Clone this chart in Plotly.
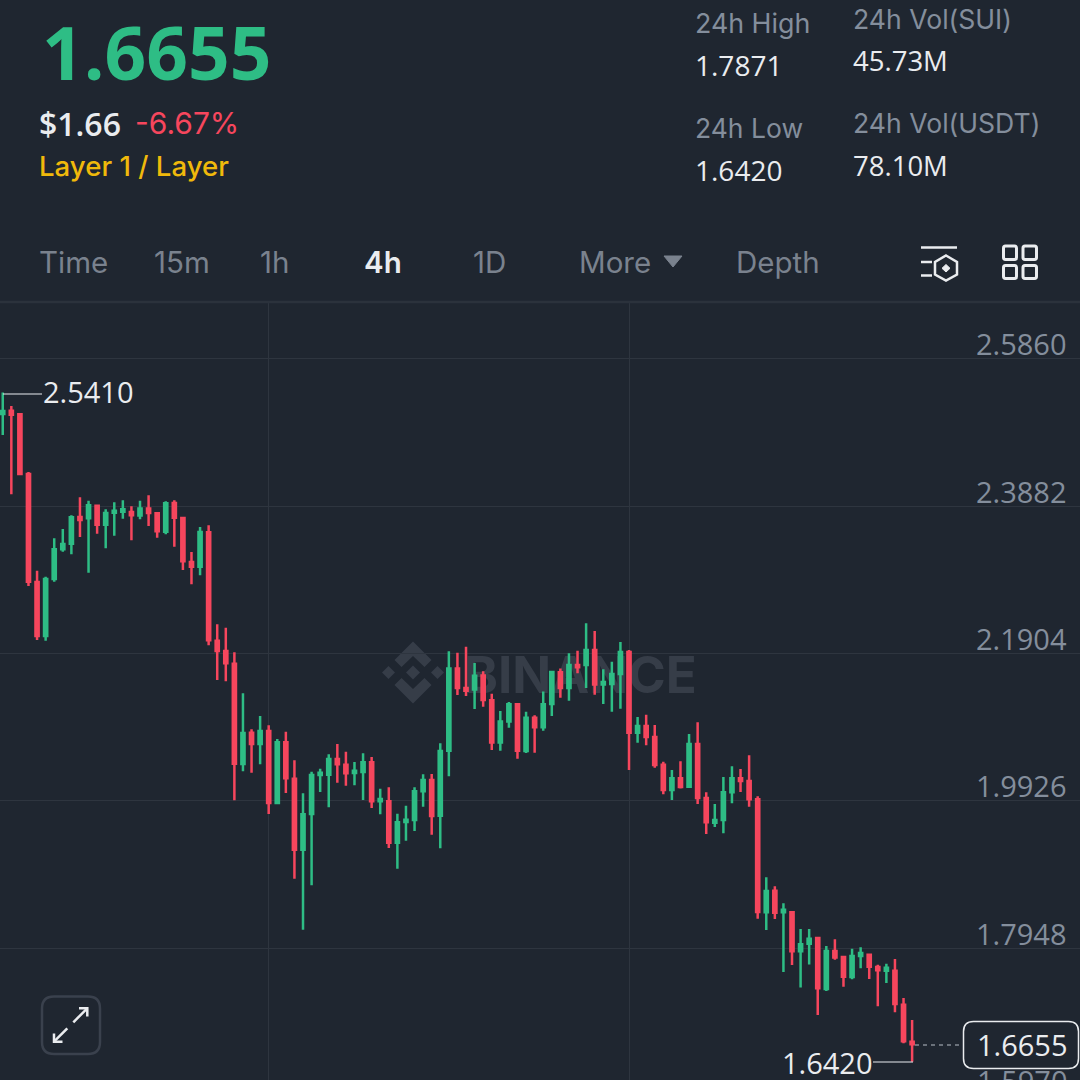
import plotly.graph_objects as go

BG = "#1F2630"
GREEN = "#2EBD85"
RED = "#F6465D"
GREY = "#848E9C"
WHITE = "#EAECEF"
GRID = "#2E353F"
TAB = "#7A828E"
FONT = "Inter"
NUM = "Open Sans"

opens = [2.5121,2.5166,2.5117,2.4315,2.2865,2.2139,2.2905,2.3303,2.3379,2.3738,2.3720,2.3890,2.3635,2.3796,2.3809,2.3805,2.3756,2.3850,2.3787,2.3541,2.3926,2.3724,2.3133,2.3070,2.3532,
 2.2076,2.1938,2.1767,2.0420,2.0841,2.0688,2.0863,1.9896,2.0711,2.0223,1.9269,1.9748,2.0272,2.0276,2.0487,2.0411,2.0299,2.0312,2.0442,1.9918,1.9918,1.9363,1.9641,1.9667,2.0052,2.0205,1.9726,
 2.0598,2.1704,2.1440,2.1422,2.1610,2.1275,2.0710,2.0992,2.1221,2.0594,2.1042,2.0912,2.1225,2.1651,2.1440,2.1749,2.1749,2.1951,2.1489,2.1494,2.1628,2.1924,2.0840,2.0930,2.0782,
 2.0410,2.0070,2.0227,2.0115,2.0688,1.9963,1.9631,1.9667,2.0039,2.0227,2.0191,1.9945,1.8427,1.8718,
 1.8427,1.8427,1.7903,1.8006,1.8082,1.7397,1.7907,1.7827,1.7558,1.7840,1.7858,1.7693,1.7643,1.7643,1.7187,1.6689]
highs = [2.5410,2.5229,2.5130,2.4342,2.3017,2.2936,2.3451,2.3576,2.3760,2.4002,2.3957,2.3894,2.3841,2.3935,2.3962,2.3881,2.3957,2.4029,2.3791,2.3948,2.3962,2.3729,2.3267,2.3603,2.3626,
 2.2296,2.2251,2.1920,2.1369,2.0885,2.1064,2.0939,2.0755,2.0854,2.0469,2.0026,2.0317,2.0357,2.0549,2.0688,2.0585,2.0447,2.0563,2.0514,2.0088,2.0106,1.9752,1.9860,2.0106,2.0281,2.0285,2.0697,
 2.1933,2.1915,2.1995,2.1776,2.1664,2.1364,2.1131,2.1252,2.1221,2.1122,2.1073,2.1395,2.1664,2.1704,2.1906,2.1942,2.2309,2.2206,2.1691,2.1794,2.2058,2.1951,2.1051,2.1082,2.0943,
 2.0451,2.0339,2.0455,2.0822,2.0979,2.0039,1.9882,2.0245,2.0388,2.0352,2.0536,1.9985,1.8897,1.8776,
 1.8548,1.8427,1.8203,1.8203,1.8087,1.7975,1.8064,1.7836,1.7939,1.7957,1.7858,1.7724,1.7737,1.7800,1.7276,1.6981]
lows = [2.4839,2.4042,2.4302,2.2811,2.2085,2.2076,2.2869,2.3272,2.3236,2.3469,2.2990,2.3514,2.3317,2.3487,2.3715,2.3424,2.3706,2.3617,2.3460,2.3505,2.3339,2.3026,2.2833,2.2954,2.2014,
 2.1548,2.1530,1.9932,2.0321,2.0303,2.0415,1.9748,1.9891,2.0030,1.8879,1.8194,1.8790,2.0043,1.9838,2.0169,2.0129,2.0133,1.9936,1.9829,1.9744,1.9291,1.9014,1.9390,1.9520,1.9846,1.9470,1.9287,
 2.0254,2.1346,2.1333,2.1158,2.1189,2.0607,2.0598,2.0907,2.0491,2.0567,2.0572,2.0867,2.1064,2.1310,2.1270,2.1637,2.1440,2.1351,2.1225,2.1122,2.1163,2.0339,2.0706,2.0670,2.0370,
 2.0012,1.9936,2.0092,2.0115,1.9882,1.9479,1.9573,1.9488,1.9891,2.0043,1.9846,1.8342,1.8189,1.8337,
 1.7625,1.7719,1.7419,1.7728,1.7048,1.7370,1.7791,1.7428,1.7527,1.7675,1.7531,1.7164,1.7478,1.7084,1.6667,1.6420]
closes = [2.5162,2.5112,2.4315,2.2869,2.2139,2.2905,2.3303,2.3375,2.3733,2.3697,2.3894,2.3635,2.3791,2.3823,2.3841,2.3760,2.3850,2.3791,2.3545,2.3921,2.3729,2.3142,2.3070,2.3536,2.2081,
 2.1938,2.1772,2.0424,2.0836,2.0688,2.0863,1.9896,2.0711,2.0227,1.9269,1.9744,2.0272,2.0303,2.0487,2.0415,2.0294,2.0330,2.0442,1.9918,1.9949,1.9363,1.9636,1.9672,2.0052,2.0205,1.9721,2.0594,
 2.1704,2.1440,2.1404,2.1606,2.1279,2.0710,2.0992,2.1221,2.0598,2.1042,2.0912,2.1221,2.1655,2.1440,2.1749,2.1718,2.1951,2.1489,2.1521,2.1628,2.1924,2.0840,2.0930,2.0782,2.0406,
 2.0070,2.0227,2.0110,2.0688,1.9963,1.9636,1.9667,2.0039,2.0227,2.0191,1.9945,1.8431,1.8713,1.8422,
 1.8463,1.7903,1.7997,1.8073,1.7406,1.7907,1.7822,1.7563,1.7840,1.7881,1.7697,1.7648,1.7684,1.7195,1.6694,1.6655]
candle_index = list(range(len(closes)))

price_ticks = [2.5860, 2.3882, 2.1904, 1.9926, 1.7948]
price_tick_labels = ["2.5860", "2.3882", "2.1904", "1.9926", "1.7948"]
clipped_tick_label = "1.5970"
time_grid_candles = [31, 73]

tabs = ["Time", "15m", "1h", "4h", "1D", "More", "Depth"]
tab_x = [38, 153, 259, 363, 472, 578, 735]

W = 1080.0
def px(x, y):
    return x / W, 1 - y / W
def path(points, close=True):
    s = "M" + " L".join(f"{px(x,y)[0]:.5f},{px(x,y)[1]:.5f}" for x, y in points)
    return s + (" Z" if close else "")

annotations, shapes = [], []
def text(x, y, s, size, color, anchor="left", weight=400, family=FONT):
    fx, fy = px(x, y)
    annotations.append(dict(text=s, x=fx, y=fy, xref="paper", yref="paper", showarrow=False,
                            xanchor=anchor, yanchor="middle", borderpad=0, xshift=0,
                            font=dict(family=family, size=size, color=color, weight=weight)))
def stroke(points, color=WHITE, width=2.5, close=False, fill=None, dash=None):
    shapes.append(dict(type="path", path=path(points, close), xref="paper", yref="paper",
                       line=dict(color=color, width=width, dash=dash or "solid"),
                       fillcolor=fill or "rgba(0,0,0,0)", layer="above"))
def rrect(x0, y0, x1, y1, r, color, width, fill=None):
    a0, b0 = px(x0, y0); a1, b1 = px(x1, y1); rx = r / W; ry = r / W
    d = (f"M{a0+rx:.5f},{b0:.5f} L{a1-rx:.5f},{b0:.5f} Q{a1:.5f},{b0:.5f} {a1:.5f},{b0-ry:.5f} "
         f"L{a1:.5f},{b1+ry:.5f} Q{a1:.5f},{b1:.5f} {a1-rx:.5f},{b1:.5f} L{a0+rx:.5f},{b1:.5f} "
         f"Q{a0:.5f},{b1:.5f} {a0:.5f},{b1+ry:.5f} L{a0:.5f},{b0-ry:.5f} Q{a0:.5f},{b0:.5f} {a0+rx:.5f},{b0:.5f} Z")
    shapes.append(dict(type="path", path=d, xref="paper", yref="paper", layer="above",
                       line=dict(color=color, width=width), fillcolor=fill or "rgba(0,0,0,0)"))

# Header
text(41, 51, "1.6655", 73, GREEN, weight=700, family=NUM)
text(38, 123, "$1.66", 32, WHITE, weight=600, family=NUM)
text(134, 123, "-6.67%", 30, RED)
text(38, 166, "Layer 1 / Layer", 27.6, "#F0B90B", weight=500)
text(694, 23, "24h High", 26.8, GREY)
text(694, 65, "1.7871", 28, WHITE, family=NUM)
text(694, 128, "24h Low", 26.5, GREY)
text(694, 170, "1.6420", 28, WHITE, family=NUM)
text(852, 19, "24h Vol(SUI)", 26.6, GREY)
text(852, 60, "45.73M", 27.5, WHITE, family=NUM)
text(852, 123, "24h Vol(USDT)", 26.6, GREY)
text(852, 165, "78.10M", 27.5, WHITE, family=NUM)

# Tabs
for name, x in zip(tabs, tab_x):
    active = name == "4h"
    text(x, 262, name, 29.5, WHITE if active else TAB, weight=600 if active else 400)
stroke([(664, 256), (682, 256), (673, 267)], TAB, 1, True, TAB)
stroke([(0, 302), (1080, 302)], "#2B323C", 2.5)

# Toolbar icons
stroke([(921, 247.5), (957, 247.5)])
stroke([(921, 262), (932, 262)])
stroke([(921, 275.5), (932, 275.5)])
stroke([(946, 255.5), (957, 262), (957, 274.5), (946, 280.5), (935, 274.5), (935, 262)], close=True)
stroke([(946, 264.5), (950, 268.3), (946, 272), (942, 268.3)], width=1, close=True, fill=WHITE)
for x0, x1 in [(1003.5, 1016.5), (1023, 1036.5)]:
    for y0, y1 in [(246, 259.5), (265.5, 278.5)]:
        rrect(x0, y0, x1, y1, 2, WHITE, 3)

# Watermark (beneath the candles)
def below(points):
    shapes.append(dict(type="path", path=path(points), xref="paper", yref="paper", layer="below",
                       line=dict(width=0), fillcolor="#363D48"))
cx, cy = 413, 672.5
for sgn in (1, -1):
    below([(cx, cy - sgn*31), (cx + 18.5, cy - sgn*12.5), (cx + 11.5, cy - sgn*5.5), (cx, cy - sgn*16.5),
           (cx - 11.5, cy - sgn*5.5), (cx - 18.5, cy - sgn*12.5)])
    below([(cx + sgn*24.5, cy - 6.5), (cx + sgn*31, cy), (cx + sgn*24.5, cy + 6.5), (cx + sgn*18, cy)])
below([(cx, cy - 7), (cx + 7, cy), (cx, cy + 7), (cx - 7, cy)])
a0, b0 = px(464, 650); a1, b1 = px(697, 695)
shapes.append(dict(type="rect", x0=a0, x1=a1, y0=b1, y1=b0, xref="paper", yref="paper", layer="below",
                   line=dict(width=0), fillcolor="rgba(0,0,0,0)",
                   label=dict(text="BINANCE", textposition="middle center",
                              font=dict(family=FONT, size=51, color="#363D48", weight=700))))

# Axis labels (sit above their gridlines)
for value, label in zip(price_ticks, price_tick_labels):
    annotations.append(dict(text=label, x=1068.5 / W, y=value, xref="paper", yref="y", showarrow=False,
                            xanchor="right", yanchor="middle", yshift=15,
                            font=dict(family=NUM, size=29, color=GREY)))
text(1068.5, 1080, clipped_tick_label, 29, GREY, "right", family=NUM)

# Chart callouts
stroke([(3, 394), (42, 394)], WHITE, 1.2)
text(42, 392, "2.5410", 29, WHITE, family=NUM)
stroke([(873, 1062), (913, 1062)], WHITE, 1.2)
text(874, 1062, "1.6420", 29, WHITE, "right", family=NUM)
stroke([(915, 1045), (963, 1045)], "#B7BDC6", 1.2, dash="4px,4px")
rrect(963.5, 1021.5, 1078.5, 1068.5, 10, WHITE, 1.5, BG)
text(1022, 1044, "1.6655", 29, WHITE, "center", family=NUM)

# Expand button
rrect(42, 996.5, 100, 1054, 12, "#3A414D", 2.5)
stroke([(73.3, 1022.3), (87.3, 1008.3)])
stroke([(79, 1008.3), (87.3, 1008.3), (87.3, 1016.6)])
stroke([(67.3, 1028.3), (54, 1041.7)])
stroke([(54, 1033.4), (54, 1041.7), (62.5, 1041.7)])

fig = go.Figure(go.Candlestick(
    x=candle_index, open=opens, high=highs, low=lows, close=closes,
    increasing=dict(line=dict(color=GREEN, width=2.5), fillcolor=GREEN),
    decreasing=dict(line=dict(color=RED, width=2.5), fillcolor=RED),
    whiskerwidth=0, showlegend=False, hoverinfo="skip"))

fig.update_layout(
    width=1080, height=1080, margin=dict(l=0, r=0, t=0, b=0, pad=0),
    paper_bgcolor=BG, plot_bgcolor=BG, boxgap=0.47, showlegend=False,
    annotations=annotations, shapes=shapes, font=dict(family=FONT),
    xaxis=dict(range=[-0.3205, 125.57], rangeslider=dict(visible=False), showline=False, zeroline=False,
               tickmode="array", tickvals=time_grid_candles, showticklabels=False, ticks="",
               showgrid=True, gridcolor=GRID, gridwidth=1.2),
    yaxis=dict(range=[1.6175, 2.6612], domain=[0, 777 / 1080], showline=False, zeroline=False,
               tickmode="array", tickvals=price_ticks, showticklabels=False, ticks="",
               showgrid=True, gridcolor=GRID, gridwidth=1.2, side="right"),
)
fig.write_html("out.html", config={"displayModeBar": False},
               post_script="document.body.style.margin='0';document.documentElement.style.background='#1F2630';document.body.style.overflow='hidden';")
